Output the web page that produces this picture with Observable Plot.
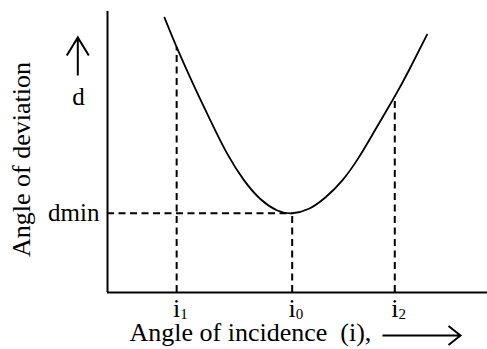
<!DOCTYPE html>
<html>
<head>
<meta charset="utf-8">
<script src="https://cdn.jsdelivr.net/npm/d3@7"></script>
<script src="https://cdn.jsdelivr.net/npm/@observablehq/plot@0.6"></script>
<style>
  html, body { margin: 0; padding: 0; background: #fff; }
  svg text, svg tspan { font-family: "Liberation Serif", "Times New Roman", serif !important; }
</style>
</head>
<body>
<div id="chart"></div>
<script>
// Deviation curve (schematic units)
const curveX = [15.0, 18.2, 22.7, 27.1, 31.5, 35.9, 40.3, 44.7, 48.6, 53.0, 57.4, 61.8, 66.1, 70.5, 75.6, 79.3, 84.1];
const curveY = [97.8, 87.3, 73.7, 61.2, 49.4, 40.0, 33.2, 29.2, 28.2, 29.8, 33.9, 39.9, 48.0, 58.0, 69.8, 79.0, 91.8];

// Marked angles of incidence and the curve height at each
const xTickLabels = ["i1", "i0", "i2"];
const xTickValues = [18.2, 48.6, 75.6];
const xTickCurveY = [87.3, 28.2, 69.8];

// Y labels
const yTickLabels = ["dmin"];
const yTickValues = [28.2];
const dLabelText = ["d"];
const dLabelValue = [69.4];

const xTitle = "Angle of incidence  (i),";
const yTitle = "Angle of deviation";

const curve = curveX.map((x, i) => ({x, y: curveY[i]}));
const ticks = xTickValues.map((x, i) => ({x, y: xTickCurveY[i], label: xTickLabels[i]}));
const yticks = yTickValues.map((y, i) => ({y, label: yTickLabels[i]}));
const dLab = dLabelValue.map((y, i) => ({y, label: dLabelText[i]}));
const minPoint = [{x: xTickValues[1], y: xTickCurveY[1]}];

function arrowShape(back, side) {
  return {
    draw(ctx, l) {
      ctx.moveTo(0, 0);
      ctx.lineTo(0, -l);
      ctx.moveTo(-side, -l + back);
      ctx.lineTo(0, -l);
      ctx.lineTo(side, -l + back);
    }
  };
}

const serif = "Liberation Serif, Times New Roman, serif";

const chart = Plot.plot({
  width: 487,
  height: 349,
  marginLeft: 107,
  marginRight: 0,
  marginTop: 11,
  marginBottom: 57,
  x: {domain: [0, 100], axis: null},
  y: {domain: [0, 100], axis: null},
  style: {fontFamily: serif, fontSize: "25px", background: "#fff", color: "#000"},
  marks: [
    // dashed guides
    Plot.ruleX(ticks, {x: "x", y1: 0, y2: "y", stroke: "#000", strokeWidth: 2, strokeDasharray: "7,4.5"}),
    Plot.ruleY(minPoint, {y: "y", x1: 0, x2: "x", stroke: "#000", strokeWidth: 2, strokeDasharray: "7,4.5"}),
    // axes lines
    Plot.ruleX([0], {y1: 0, y2: 100, stroke: "#000", strokeWidth: 2}),
    Plot.ruleY([0], {stroke: "#000", strokeWidth: 2}),
    // curve
    Plot.line(curve, {x: "x", y: "y", curve: "natural", stroke: "#000", strokeWidth: 1.8}),
    // x tick labels
    Plot.text(ticks, {x: "x", y: 0, text: "label", textAnchor: "start", lineAnchor: "bottom", dx: -3.6, dy: 24, fontSize: 26, fontFamily: serif}),
    // y tick label
    Plot.text(yticks, {x: 0, y: "y", text: "label", textAnchor: "end", lineAnchor: "middle", dx: -8, fontSize: 25, fontFamily: serif}),
    // d label + up arrow
    Plot.text(dLab, {x: 0, y: "y", text: "label", textAnchor: "middle", lineAnchor: "middle", dx: -29, fontSize: 25, fontFamily: serif}),
    Plot.vector(dLab, {x: 0, y: "y", dx: -29.7, dy: -22, length: 38, rotate: 0, anchor: "start", shape: arrowShape(18, 11), stroke: "#000", fill: "none", strokeWidth: 2, strokeLinejoin: "miter", strokeLinecap: "butt"}),
    // axis titles
    Plot.text([xTitle], {frameAnchor: "bottom-left", text: d => d, textAnchor: "start", lineAnchor: "bottom", dx: 22, dy: 48, fontSize: 26, fontFamily: serif}),
    Plot.vector([xTitle], {frameAnchor: "bottom-left", dx: 275, dy: 43, length: 78, rotate: 90, anchor: "start", shape: arrowShape(12, 9.5), stroke: "#000", fill: "none", strokeWidth: 2, strokeLinejoin: "miter", strokeLinecap: "butt"}),
    Plot.text([yTitle], {frameAnchor: "left", text: d => d, rotate: -90, textAnchor: "middle", lineAnchor: "bottom", dx: -77.5, dy: 7.5, fontSize: 26, fontFamily: serif})
  ]
});

// subscripts on the tick labels (i1, i0, i2)
d3.select(chart).selectAll("text").each(function () {
  const t = this.textContent;
  if (/^i\d$/.test(t)) {
    this.textContent = t[0];
    d3.select(this).append("tspan").attr("font-size", 15).attr("dy", 2).text(t.slice(1));
  }
});

document.getElementById("chart").append(chart);
</script>
</body>
</html>
